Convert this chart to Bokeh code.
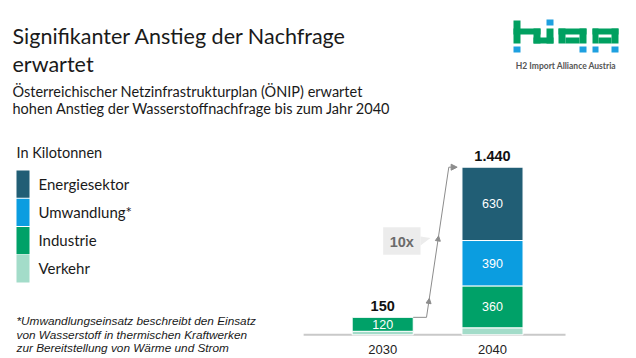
from bokeh.plotting import figure
from bokeh.models import Range1d, Label, Arrow, NormalHead
from bokeh.core.properties import value
from bokeh.embed import file_html
from bokeh.resources import INLINE

# ---------------- data ----------------
years = ["2030", "2040"]
verkehr = [30, 60]
industrie = [120, 360]
umwandlung = [0, 390]
energiesektor = [0, 630]
series_names = ["Verkehr", "Industrie", "Umwandlung*", "Energiesektor"]  # bottom -> top
series_colors = ["#a3dcc9", "#00a168", "#0b9de0", "#215e75"]
show_inside = [False, True, True, True]
growth_label = "10x"
unit_label = "In Kilotonnen"

title_lines = ["Signifikanter Anstieg der Nachfrage", "erwartet"]
subtitle_lines = ["Österreichischer Netzinfrastrukturplan (ÖNIP) erwartet",
                  "hohen Anstieg der Wasserstoffnachfrage bis zum Jahr 2040"]
footnote_lines = ["*Umwandlungseinsatz beschreibt den Einsatz",
                  "von Wasserstoff in thermischen Kraftwerken",
                  "zur Bereitstellung von Wärme und Strom"]

series_values = [verkehr, industrie, umwandlung, energiesektor]
totals = [sum(v[i] for v in series_values) for i in range(len(years))]
total_labels = [f"{t:,}".replace(",", ".") for t in totals]
idx = list(range(len(years)))

# ---------------- figure ----------------
W, H = 636, 358
p = figure(width=W, height=H, x_range=Range1d(0, W), y_range=Range1d(H, 0),
           x_axis_location=None, y_axis_location=None, toolbar_location=None,
           output_backend="svg", min_border=0, outline_line_color=None)
p.grid.visible = False
p.background_fill_color = "white"
p.border_fill_color = "white"

# bar coordinate system
px_per_cat = 109.8
cx0 = 382.2
base_y = 334.3
top_y = 166.7
k = (base_y - top_y) / max(totals)
p.extra_x_ranges = {"idx": Range1d(-cx0 / px_per_cat, (W - cx0) / px_per_cat)}
p.extra_y_ranges = {"val": Range1d(-(H - base_y) / k, base_y / k)}
bw = 0.556

# axis line
p.line(x=[-0.72, len(years) - 1 + 0.665], y=[0, 0], x_range_name="idx", y_range_name="val",
       line_color="#c9c9c9", line_width=2)

# stacked bars
bottoms = [0] * len(years)
for name, vals, col, show in zip(series_names, series_values, series_colors, show_inside):
    xs, bots, tops, labs, mids = [], [], [], [], []
    for i, v in enumerate(vals):
        if v > 0:
            xs.append(idx[i]); bots.append(bottoms[i]); tops.append(bottoms[i] + v)
            labs.append(str(v)); mids.append(bottoms[i] + v / 2)
        bottoms[i] += v
    if xs:
        p.vbar(x=xs, bottom=bots, top=tops, width=bw, x_range_name="idx", y_range_name="val",
               fill_color=col, line_color="white", line_width=1)
        if show:
            p.text(x=xs, y=mids, text=labs, x_range_name="idx", y_range_name="val",
                   text_color="white", text_font=value("Liberation Sans"), text_font_size="12.5px",
                   text_align="center", text_baseline="middle")

# totals
p.text(x=idx, y=totals, text=total_labels, x_range_name="idx", y_range_name="val",
       y_offset=-11, text_color="#111111", text_font=value("Liberation Sans"),
       text_font_style="bold", text_font_size="14.5px", text_align="center", text_baseline="middle")

# year labels
p.text(x=idx, y=[349] * len(years), text=years, x_range_name="idx",
       text_color="#222222", text_font=value("Liberation Sans"), text_font_size="13px",
       text_align="center", text_baseline="middle")

# growth arrow path
gray = "#8c8c8c"
x_a = idx[0] + bw / 2
x_b = idx[0] + 0.399
x_c = idx[0] + 0.602
x_d = idx[1] - bw / 2 - 0.044
p.line(x=[x_a, x_b, x_c], y=[totals[0], totals[0], totals[1]], x_range_name="idx",
       y_range_name="val", line_color=gray, line_width=1)
p.add_layout(Arrow(end=NormalHead(size=6, fill_color=gray, line_color=gray),
                   x_start=x_c, y_start=totals[1], x_end=x_d, y_end=totals[1],
                   x_range_name="idx", y_range_name="val", line_color=gray, line_width=1))
for f in (0.116, 0.532):
    xs_ = x_b + (x_c - x_b) * f
    ys_ = totals[0] + (totals[1] - totals[0]) * f
    xe_ = x_b + (x_c - x_b) * (f + 0.01)
    ye_ = totals[0] + (totals[1] - totals[0]) * (f + 0.01)
    p.add_layout(Arrow(end=NormalHead(size=5, fill_color=gray, line_color=gray),
                       x_start=xs_, y_start=ys_, x_end=xe_, y_end=ye_,
                       x_range_name="idx", y_range_name="val", line_color=gray, line_width=1))

# 10x callout
p.quad(left=382.7, right=420, top=226.7, bottom=254.3, fill_color="#ececec", line_color=None)
p.patch(x=[420, 420, 430], y=[236, 245, 237.5], fill_color="#ececec", line_color=None)
p.add_layout(Label(x=401.3, y=241, text=growth_label, text_align="center", text_baseline="middle",
                   text_font="Liberation Sans", text_font_style="bold",
                   text_font_size="14.5px", text_color="#6b6b6b"))

# titles
tfont = "Lato"
for j, t in enumerate(title_lines):
    p.add_layout(Label(x=12, y=35 + 28 * j, text=t, text_baseline="middle", text_font=tfont,
                       text_font_size="21.5px", text_color="#1a1a1a"))
for j, t in enumerate(subtitle_lines):
    p.add_layout(Label(x=12, y=90.7 + 17.6 * j, text=t, text_baseline="middle", text_font=tfont,
                       text_font_size="14.5px", text_color="#1a1a1a"))

# legend
p.add_layout(Label(x=16, y=151.7, text=unit_label, text_baseline="middle", text_font=tfont,
                   text_font_size="14.5px", text_color="#1a1a1a"))
n = len(series_names)
for j in range(n):
    si = n - 1 - j
    top = 170 + 28.2 * j
    p.quad(left=16, right=29, top=top, bottom=top + 27.3, fill_color=series_colors[si], line_color=None)
    p.add_layout(Label(x=38, y=top + 13.2, text=series_names[si], text_baseline="middle",
                       text_font=tfont, text_font_size="15px", text_color="#1a1a1a"))

# footnote
for j, t in enumerate(footnote_lines):
    p.add_layout(Label(x=16, y=320.7 + 13.3 * j, text=t, text_baseline="middle",
                       text_font="Liberation Sans", text_font_style="italic",
                       text_font_size="11.8px", text_color="#1a1a1a"))

# logo
lg = "#00a060"
lb = "#1ea0e0"
green_rects = [(513, 20, 520, 43), (513, 28, 540, 34), (533, 28, 540, 43), (533, 37, 553, 43),
               (546, 28, 553, 43),
               (558, 28, 586, 34), (558, 28, 565, 43), (579, 28, 586, 43), (565, 37, 579, 43),
               (592, 28, 618, 34), (592, 28, 598, 43), (611, 28, 618, 43), (598, 37, 611, 43)]
blue_rects = [(513, 46, 520, 52), (546, 19, 553, 25), (579, 46, 586, 52),
              (592, 46, 598, 52), (611, 46, 618, 52)]
p.quad(left=[r[0] for r in green_rects], right=[r[2] for r in green_rects],
       top=[r[1] for r in green_rects], bottom=[r[3] for r in green_rects],
       fill_color=lg, line_color=None)
p.quad(left=[r[0] for r in blue_rects], right=[r[2] for r in blue_rects],
       top=[r[1] for r in blue_rects], bottom=[r[3] for r in blue_rects],
       fill_color=lb, line_color=None)
p.add_layout(Label(x=565.5, y=65.7, text="H2 Import Alliance Austria", text_align="center",
                   text_baseline="middle", text_font=tfont, text_font_style="bold",
                   text_font_size="8.5px", text_color="#555555"))

open("out.html", "w").write(file_html(p, INLINE))
